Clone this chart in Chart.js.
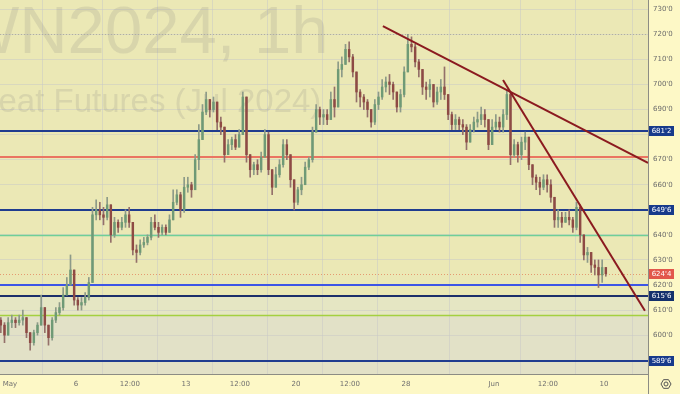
<!DOCTYPE html>
<html><head><meta charset="utf-8">
<script src="https://cdn.jsdelivr.net/npm/chart.js@4/dist/chart.umd.min.js"></script>
<style>html,body{margin:0;padding:0;background:#fdf8c6;overflow:hidden}canvas{display:block}</style>
</head><body>
<canvas id="c" width="680" height="394"></canvas>
<script>
// ---- DATA (hourly wheat futures condensed to 6 bars per trading day) ----
const firstOpen = 606;
const closes = [604,600,605,606,605,606,607,601,597,601,604,611,604,599,606,609,611,616,620,626,
614,612,613,615,621,648,650,648,647,652,640,645,643,645,648,645,634,633,636,637,
639,645,643,641,643,641,646,653,656,650,659,660,658,670,678,689,694,690,693,685,
683,672,676,678,675,680,695,672,666,668,666,671,680,666,659,664,668,676,672,662,
653,658,660,667,670,681,690,687,688,686,694,691,706,708,714,711,705,697,695,693,
690,685,692,695,699,701,700,697,691,696,705,716,715,709,706,699,698,700,693,697,
699,696,688,684,686,684,683,677,682,685,686,688,686,676,683,685,683,688,696,672,
676,672,677,679,668,663,661,659,662,660,655,646,647,645,647,646,643,651,640,632,
633,628,627,624,627,624.5];
const highs = [607,605,607,608,607,608,610,607,601,602,605,616,609,604,607,611,613,619,623,632,
626,615,615,617,623,651,654,653,651,655,652,647,646,647,650,651,644,636,638,639,
640,647,648,645,644,644,648,658,658,657,663,663,661,672,684,692,697,694,695,693,
687,683,678,679,680,682,697,690,672,669,670,673,682,681,666,667,670,678,678,672,
662,659,663,669,671,683,692,691,690,690,697,699,709,711,716,717,712,705,698,696,
694,689,694,697,702,703,704,701,696,698,707,720,719,716,710,706,701,702,699,699,
702,707,696,689,688,687,686,684,684,687,689,691,690,686,686,688,687,690,698,697,
678,677,679,681,678,668,664,663,664,664,662,655,650,649,649,650,647,653,652,637,
635,631,630,630,630,627];
const lows = [601,597,600,603,603,604,604,599,594,596,600,606,601,596,598,605,608,610,616,620,
612,610,610,612,614,621,646,646,644,646,637,639,641,642,643,643,632,629,632,635,
636,638,642,639,640,640,641,647,652,647,649,657,655,659,666,680,688,687,689,682,
680,669,672,674,674,675,681,669,663,664,664,665,671,664,656,660,663,667,670,659,
650,652,656,660,666,669,682,684,684,684,686,687,692,703,708,709,703,693,691,690,
687,683,684,690,694,697,696,694,689,689,695,707,713,707,703,696,694,695,691,692,
694,694,686,682,682,682,680,674,677,681,683,684,683,674,677,682,681,681,686,668,
671,669,670,674,666,660,658,656,658,657,653,643,643,643,645,644,641,642,637,630,
629,625,624,619,621,623.5];
const startDay = -0.417;      // first bar, in trading days from May 1 session
const barsPerDay = 6;
const tickDays   = [0, 3, 5.45, 8, 10.45, 13, 15.45, 18, 22, 24.45, 27];
const tickLabels = ['May','6','12:00','13','12:00','20','12:00','28','Jun','12:00','10'];
const priceTicks = [600,610,620,630,640,650,660,670,680,690,700,710,720,730];
const hiddenPriceTicks = [590,650,680];
const trendA = [{x:16.95, y:723.3},{x:29.0, y:668.7}];
const trendB = [{x:22.41, y:701.8},{x:28.86, y:609.7}];
const levelValues = [720, 681.25, 671, 649.75, 640, 624.5, 620, 615.75, 608, 589.75];
const levelColors = ['#b0afa0','#1f3c8f','#ea7462','#1f3c8f','#6fcf98','#e59a70','#3d55e6','#1d2f6a','#a4d040','#1f3c8f'];
const levelWidths = [1, 2, 2, 2, 1.5, 1, 2, 2, 1.5, 2];
const levelDashed = [true,false,false,false,false,true,false,false,false,false];
const boxValues = [681.25, 649.75, 624.5, 615.75, 589.75];
const boxColors = ['#173a8b','#173a8b','#e2574b','#14306c','#173a8b'];
const watermark1 = 'WN2024, 1h';
const watermark2 = 'Wheat Futures (Jul 2024)';

// ---- derived ----
const opens = closes.map((c,i)=> i===0 ? firstOpen : closes[i-1]);
const xs = closes.map((_,i)=> startDay + i/barsPerDay);
const hi = highs.map((h,i)=> Math.max(h, opens[i], closes[i]));
const lo = lows.map((l,i)=> Math.min(l, opens[i], closes[i]));
const up = closes.map((c,i)=> c >= opens[i]);
const UP='#6f9a76', DN='#8e4a44', UPW='#8d9a88', DNW='#94706a';
const fmt8 = v => { const w=Math.floor(v); return w + "'" + Math.round((v-w)*8); };

const FONT = "'DejaVu Sans', 'Liberation Sans', sans-serif";

const tvPlugin = {
  id:'tv',
  beforeDraw(chart){
    const {ctx, chartArea:a, scales:{y}} = chart;
    ctx.save();
    ctx.fillStyle='#fdf8c6'; ctx.fillRect(0,0,chart.width,chart.height);
    ctx.fillStyle='#ebe8b5'; ctx.fillRect(a.left,a.top,a.right-a.left,a.bottom-a.top);
    const y1=y.getPixelForValue(615.75), y2=y.getPixelForValue(608);
    ctx.fillStyle='#e5e6c3'; ctx.fillRect(a.left,y1,a.right-a.left,y2-y1);
    ctx.fillStyle='#e2e1c7'; ctx.fillRect(a.left,y2,a.right-a.left,a.bottom-y2);
    ctx.restore();
  },
  beforeDatasetsDraw(chart){
    const {ctx, chartArea:a, scales:{x,y}} = chart;
    ctx.save();
    ctx.beginPath(); ctx.rect(a.left,a.top,a.right-a.left,a.bottom-a.top); ctx.clip();
    ctx.fillStyle='rgba(140,140,135,0.2)';
    ctx.textBaseline='alphabetic'; ctx.textAlign='left';
    ctx.font="67px 'Liberation Sans', Arial, sans-serif";
    ctx.fillText(watermark1, -44, 53);
    ctx.font="33px 'Liberation Sans', Arial, sans-serif";
    ctx.fillText(watermark2, -51, 112);
    levelValues.forEach((v,i)=>{
      const py = Math.round(y.getPixelForValue(v)) + (levelWidths[i]%2 ? 0.5 : 0);
      ctx.beginPath();
      ctx.strokeStyle=levelColors[i]; ctx.lineWidth=levelWidths[i];
      ctx.setLineDash(levelDashed[i]?[1,2]:[]);
      ctx.moveTo(a.left,py); ctx.lineTo(a.right,py); ctx.stroke();
    });
    ctx.restore();
  },
  afterDraw(chart){
    const {ctx, chartArea:a, scales:{y}} = chart;
    ctx.save();
    ctx.strokeStyle='#8c8c84'; ctx.lineWidth=1; ctx.setLineDash([]);
    ctx.beginPath(); ctx.moveTo(a.right+0.5,0); ctx.lineTo(a.right+0.5,chart.height); ctx.stroke();
    ctx.beginPath(); ctx.moveTo(0,a.bottom+0.5); ctx.lineTo(a.right,a.bottom+0.5); ctx.stroke();
    ctx.font='7px '+FONT; ctx.textAlign='center'; ctx.textBaseline='middle';
    boxValues.forEach((v,i)=>{
      const py = y.getPixelForValue(v);
      ctx.fillStyle=boxColors[i];
      ctx.fillRect(a.right+1, Math.round(py)-5, 25, 10);
      ctx.fillStyle='#ffffff';
      ctx.fillText(fmt8(v), a.right+13.5, Math.round(py)+0.5);
    });
    const cx=666, cy=384;
    ctx.strokeStyle='#555'; ctx.lineWidth=1;
    ctx.beginPath();
    for(let k=0;k<6;k++){const ang=Math.PI/3*k; const px=cx+5*Math.cos(ang), qy=cy+5*Math.sin(ang); k?ctx.lineTo(px,qy):ctx.moveTo(px,qy);}
    ctx.closePath(); ctx.stroke();
    ctx.beginPath(); ctx.arc(cx,cy,2,0,Math.PI*2); ctx.stroke();
    ctx.restore();
  }
};

new Chart(document.getElementById('c'), {
  data:{
    datasets:[
      {type:'line', data:trendA, borderColor:'#8b1a1f', borderWidth:2, pointRadius:0, clip:0, order:0},
      {type:'line', data:trendB, borderColor:'#8b1a1f', borderWidth:2, pointRadius:0, clip:0, order:0},
      {type:'bar', data: xs.map((t,i)=>({x:t, y:[opens[i], closes[i]]})), barThickness:1.8, minBarLength:1,
        backgroundColor: up.map(u=>u?UP:DN), grouped:false, order:1},
      {type:'bar', data: xs.map((t,i)=>({x:t, y:[lo[i], hi[i]]})), barThickness:1,
        backgroundColor: up.map(u=>u?UPW:DNW), grouped:false, order:2}
    ]
  },
  options:{
    responsive:false, devicePixelRatio:1, animation:false,
    layout:{padding:0},
    plugins:{legend:{display:false}, tooltip:{enabled:false}},
    scales:{
      x:{type:'linear', min:-0.4545, max:29.0, offset:false,
        grid:{color:'rgba(200,200,200,0.5)', drawTicks:false},
        border:{display:false},
        afterBuildTicks: s => { s.ticks = tickDays.map(v=>({value:v})); },
        afterFit: s => { s.height = 20; s.paddingLeft = 0; s.paddingRight = 0; },
        ticks:{autoSkip:false, maxRotation:0, padding:6, color:'#6f6f6f', font:{family:FONT, size:7},
          callback:(v,i)=> tickLabels[i]}
      },
      y:{type:'linear', position:'right', min:584.5, max:733.7,
        grid:{color:'rgba(200,200,200,0.5)', drawTicks:false},
        border:{display:false},
        afterBuildTicks: s => { s.ticks = priceTicks.map(v=>({value:v})); },
        afterFit: s => { s.width = 32; s.paddingTop = 0; s.paddingBottom = 0; },
        ticks:{padding:5, color:'#6b6b6b', font:{family:FONT, size:7},
          callback:v=> hiddenPriceTicks.includes(v) ? '' : v+"'0"}
      }
    }
  },
  plugins:[tvPlugin]
});
</script>
</body></html>
